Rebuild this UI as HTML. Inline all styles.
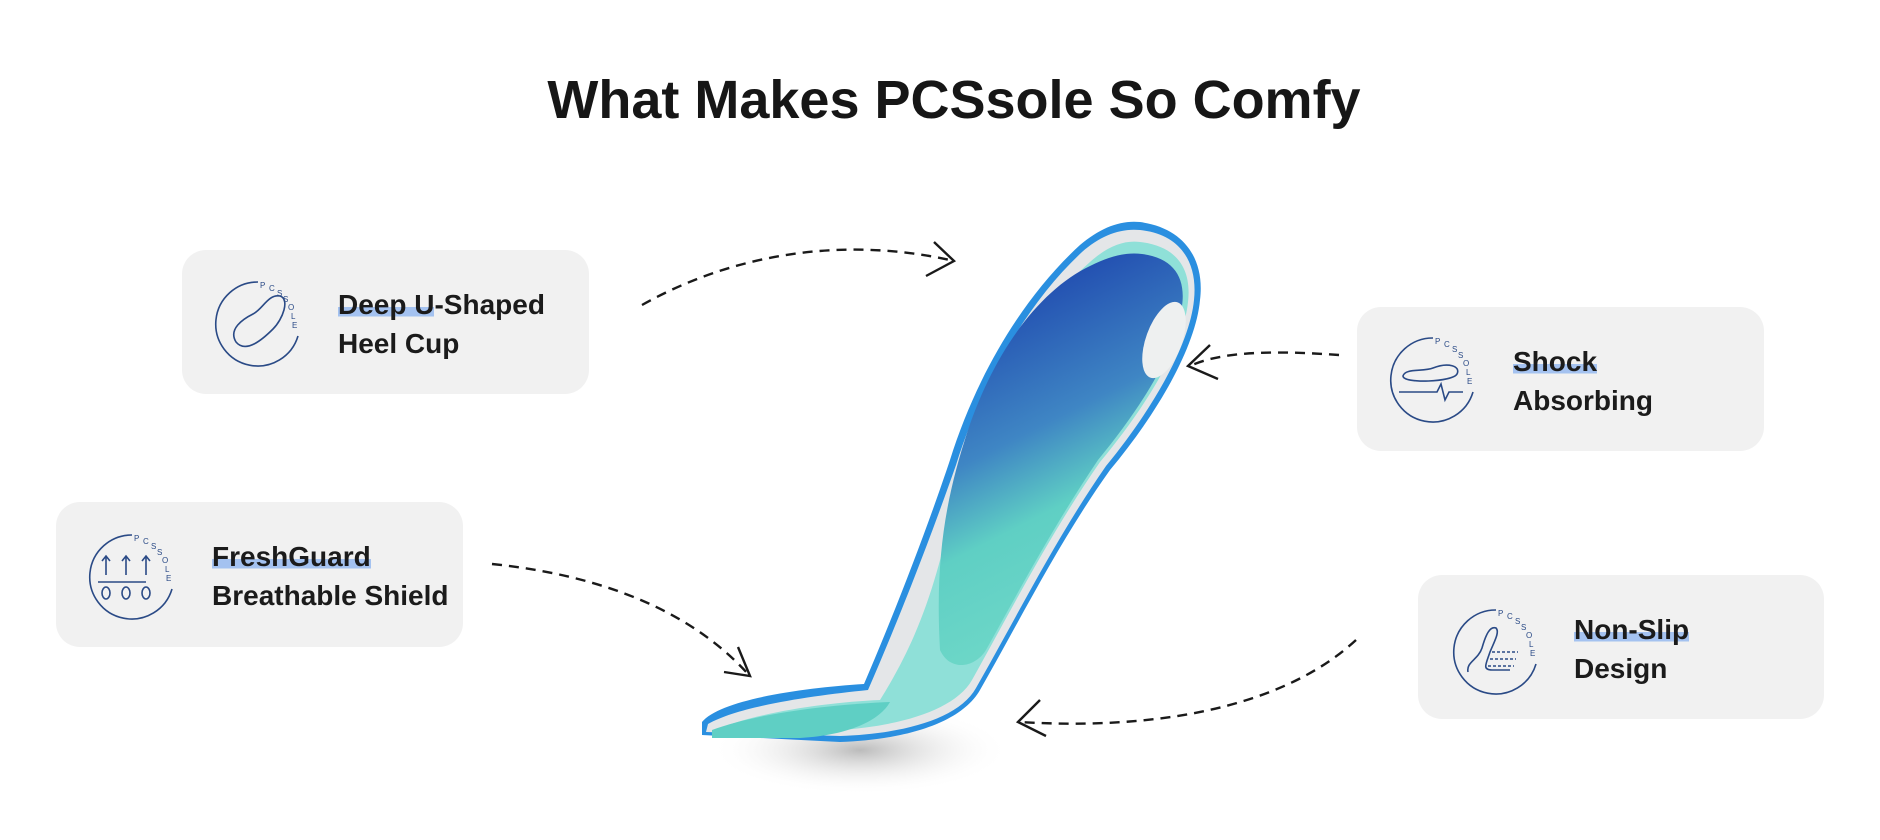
<!DOCTYPE html>
<html><head><meta charset="utf-8"><style>
body{margin:0;width:1880px;height:840px;background:#fff;position:relative;overflow:hidden;font-family:"Liberation Sans",sans-serif}
h1{position:absolute;left:0;width:1908px;top:69px;margin:0;text-align:center;font-size:54px;font-weight:bold;color:#161616;letter-spacing:0px}
.box{position:absolute;background:#f1f1f1;border-radius:24px}
.t{position:absolute;font-weight:bold;font-size:28px;color:#1b1b1b;line-height:39px;letter-spacing:0px}
.hl{background:linear-gradient(to bottom,transparent 58%,#a4c2f0 58%,#a4c2f0 88%,transparent 88%)}
svg{position:absolute;left:0;top:0}
</style></head><body>
<h1>What Makes PCSsole So Comfy</h1>
<div class="box" style="left:182px;top:250px;width:407px;height:144px"></div>
<div class="box" style="left:56px;top:502px;width:407px;height:145px"></div>
<div class="box" style="left:1357px;top:307px;width:407px;height:144px"></div>
<div class="box" style="left:1418px;top:575px;width:406px;height:144px"></div>
<div class="t" style="left:338px;top:285px"><span class="hl">Deep U</span>-Shaped<br>Heel Cup</div>
<div class="t" style="left:212px;top:537px"><span class="hl">FreshGuard</span><br>Breathable Shield</div>
<div class="t" style="left:1513px;top:342px"><span class="hl">Shock</span><br>Absorbing</div>
<div class="t" style="left:1574px;top:610px"><span class="hl">Non-Slip</span><br>Design</div>
<svg width="1880" height="840" viewBox="0 0 1880 840">
<defs>
<linearGradient id="g" x1="0" y1="0" x2="0.3" y2="1"><stop offset="0.2" stop-color="#2452b2"/><stop offset="0.5" stop-color="#3f86c4"/><stop offset="0.7" stop-color="#5fcfc4"/><stop offset="1" stop-color="#6fd8c8"/></linearGradient>
<radialGradient id="sh" cx="0.5" cy="0.5" r="0.5"><stop offset="0" stop-color="#bbb"/><stop offset="1" stop-color="#fff" stop-opacity="0"/></radialGradient>
<g id="ring"><path d="M0,-42 A42,42 0 1,0 40,12" fill="none" stroke="#2a4a86" stroke-width="1.6"/></g>
</defs>
<ellipse cx="860" cy="750" rx="150" ry="45" fill="url(#sh)"/>
<path d="M702,735 L702,722 C720,700 800,688 864,684 C900,600 930,520 950,460 C975,380 1020,300 1080,245 C1100,228 1120,220 1140,222 C1185,228 1205,260 1200,300 C1196,345 1160,410 1110,470 C1060,540 1020,620 980,690 C960,725 900,740 840,742 Z" fill="#2a8fe0"/>
<path d="M706,732 L708,724 C740,706 810,696 868,690 C905,605 935,525 956,465 C980,388 1024,306 1082,252 C1100,236 1120,228 1140,230 C1180,234 1198,262 1194,300 C1190,342 1156,405 1106,466 C1056,538 1016,618 976,688 C958,720 900,734 840,736 Z" fill="#e4e6e8"/>
<path d="M720,728 C760,712 830,702 880,700 C930,620 940,560 960,480 C985,395 1035,310 1090,262 C1108,246 1124,240 1140,242 C1176,246 1192,268 1188,302 C1184,342 1150,402 1100,462 C1050,534 1010,612 972,680 C955,710 900,726 840,730 Z" fill="#8fe0d8"/>
<path d="M940,650 C935,560 945,500 968,430 C995,350 1040,290 1090,266 C1110,256 1126,252 1142,254 C1174,258 1186,278 1182,306 C1178,346 1146,402 1098,460 C1052,528 1014,600 986,650 C975,668 950,672 940,650 Z" fill="url(#g)"/>
<path d="M712,730 C760,712 840,704 890,702 C880,720 850,735 800,738 L712,738Z" fill="#5fcfc4"/>
<ellipse cx="1164" cy="340" rx="18" ry="40" transform="rotate(20 1164 340)" fill="#eef0f0"/>
<g fill="none" stroke="#1a1a1a" stroke-width="2.4" stroke-dasharray="10,7">
<path d="M642,305 C740,250 850,238 950,260"/>
<path d="M492,564 C600,575 690,610 748,674"/>
<path d="M1339,355 C1270,350 1220,352 1190,366"/>
<path d="M1356,640 C1280,710 1150,730 1020,722"/>
</g>
<g fill="none" stroke="#1a1a1a" stroke-width="2.4">
<path d="M934,242 L954,261 L926,276"/>
<path d="M738,647 L750,676 L724,672"/>
<path d="M1210,345 L1188,366 L1218,379"/>
<path d="M1040,700 L1018,722 L1046,736"/>
</g>
<g transform="translate(258,324)"><use href="#ring"/>
<text font-size="8" fill="#2a4a86" font-family="Liberation Sans"><tspan x="2" y="-36">P</tspan><tspan x="11" y="-33">C</tspan><tspan x="19" y="-28">S</tspan><tspan x="25" y="-22">S</tspan><tspan x="30" y="-14">O</tspan><tspan x="33" y="-5">L</tspan><tspan x="34" y="4">E</tspan></text>
<path d="M-22,18 C-30,5 -15,-5 -5,-10 C5,-15 10,-30 22,-28 C32,-25 25,-5 15,5 C5,15 -12,30 -22,18Z" fill="none" stroke="#2a4a86" stroke-width="1.6"/></g>
<g transform="translate(132,577)"><use href="#ring"/>
<text font-size="8" fill="#2a4a86" font-family="Liberation Sans"><tspan x="2" y="-36">P</tspan><tspan x="11" y="-33">C</tspan><tspan x="19" y="-28">S</tspan><tspan x="25" y="-22">S</tspan><tspan x="30" y="-14">O</tspan><tspan x="33" y="-5">L</tspan><tspan x="34" y="4">E</tspan></text>
<g fill="none" stroke="#2a4a86" stroke-width="1.6"><path d="M-34,5 H14"/><path d="M-22,-2 V-20 M-26,-16 L-22,-21 L-18,-16 M-2,-2 V-20 M-6,-16 L-2,-21 L2,-16 M18,-2 V-20 M14,-16 L18,-21 L22,-16" transform="translate(-4,0)"/><ellipse cx="-26" cy="16" rx="4" ry="6"/><ellipse cx="-6" cy="16" rx="4" ry="6"/><ellipse cx="14" cy="16" rx="4" ry="6"/></g></g>
<g transform="translate(1433,380)"><use href="#ring"/>
<text font-size="8" fill="#2a4a86" font-family="Liberation Sans"><tspan x="2" y="-36">P</tspan><tspan x="11" y="-33">C</tspan><tspan x="19" y="-28">S</tspan><tspan x="25" y="-22">S</tspan><tspan x="30" y="-14">O</tspan><tspan x="33" y="-5">L</tspan><tspan x="34" y="4">E</tspan></text>
<g fill="none" stroke="#2a4a86" stroke-width="1.6"><path d="M-30,-4 C-28,-12 -10,-8 0,-12 C15,-18 28,-14 24,-6 C20,2 -30,4 -30,-4Z"/><path d="M-34,12 H4 L8,4 L12,20 L16,12 H30"/></g></g>
<g transform="translate(1496,652)"><use href="#ring"/>
<text font-size="8" fill="#2a4a86" font-family="Liberation Sans"><tspan x="2" y="-36">P</tspan><tspan x="11" y="-33">C</tspan><tspan x="19" y="-28">S</tspan><tspan x="25" y="-22">S</tspan><tspan x="30" y="-14">O</tspan><tspan x="33" y="-5">L</tspan><tspan x="34" y="4">E</tspan></text>
<g fill="none" stroke="#2a4a86" stroke-width="1.6"><path d="M-28,20 C-30,10 -18,8 -14,-4 C-10,-18 -6,-26 0,-24 C4,-20 -2,-10 -6,0 C-10,12 -14,18 -4,18 H14"/><path d="M-4,0 H22 M-6,7 H20 M-8,14 H18" stroke-dasharray="3,2"/></g></g>
</svg>
</body></html>
